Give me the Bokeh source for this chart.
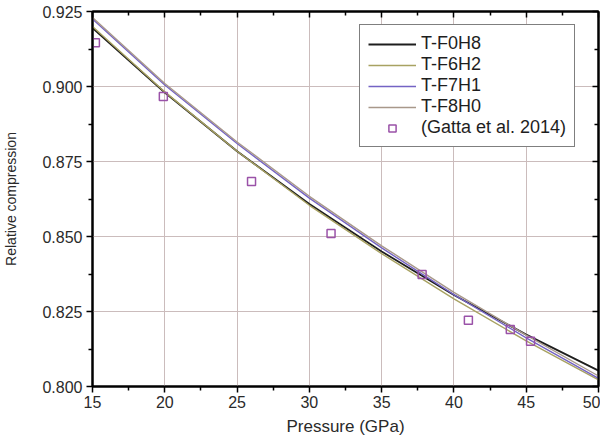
from bokeh.plotting import figure
from bokeh.models import (Range1d, LinearAxis, FixedTicker, Legend, LegendItem, Label,
                          CustomJSTickFormatter)
from bokeh.embed import file_html
from bokeh.resources import INLINE

# ---- data ----
pressure = [15, 20, 25, 30, 35, 40, 45, 50]
f0h8 = [0.9195, 0.8980, 0.8784, 0.8608, 0.8450, 0.8305, 0.8173, 0.8053]
f6h2 = [0.9200, 0.8982, 0.8784, 0.8604, 0.8443, 0.8292, 0.8152, 0.8022]
f7h1 = [0.9225, 0.9005, 0.8810, 0.8628, 0.8462, 0.8306, 0.8162, 0.8027]
f8h0 = [0.9230, 0.9010, 0.8815, 0.8634, 0.8469, 0.8314, 0.8171, 0.8035]
gatta_p = [15.2, 19.9, 26.0, 31.5, 37.8, 41.0, 43.9, 45.3]
gatta_v = [0.9146, 0.8967, 0.8683, 0.8510, 0.8373, 0.8221, 0.8190, 0.8151]
x_ticks = [15, 20, 25, 30, 35, 40, 45, 50]
y_ticks = [0.800, 0.825, 0.850, 0.875, 0.900, 0.925]
x_minor = [17.5, 22.5, 27.5, 32.5, 37.5, 42.5, 47.5]
y_minor = [0.8125, 0.8375, 0.8625, 0.8875, 0.9125]

FONT = "Liberation Sans"

p = figure(width=600, height=441, output_backend="svg", toolbar_location=None,
           x_range=Range1d(15, 50), y_range=Range1d(0.800, 0.925),
           min_border_left=90, min_border_right=2, min_border_top=11, min_border_bottom=55)
p.background_fill_color = "white"
p.border_fill_color = "white"
p.outline_line_color = "black"
p.outline_line_width = 2

# grid
p.xgrid.ticker = FixedTicker(ticks=x_ticks)
p.ygrid.ticker = FixedTicker(ticks=y_ticks)
for g in (p.xgrid, p.ygrid):
    g.grid_line_color = "#cbbcbc"
    g.grid_line_width = 1

def style_axis(ax, labels=True):
    ax.axis_line_color = "black"
    ax.axis_line_width = 2
    ax.major_tick_line_color = "black"
    ax.minor_tick_line_color = "black"
    ax.major_tick_line_width = 1.5
    ax.minor_tick_line_width = 1.5
    ax.major_label_text_font = FONT
    ax.major_label_text_font_size = "16px"
    ax.major_label_text_color = "#2a2a2a"
    ax.axis_label_text_font = FONT
    ax.axis_label_text_font_style = "normal"
    ax.axis_label_text_color = "#2a2a2a"
    if labels:
        ax.major_tick_out = 6
        ax.major_tick_in = 0
        ax.minor_tick_out = 4
        ax.minor_tick_in = 0
    else:
        ax.major_tick_out = 0
        ax.major_tick_in = 6
        ax.minor_tick_out = 0
        ax.minor_tick_in = 4
        ax.formatter = CustomJSTickFormatter(code="return '';")
        ax.major_label_standoff = 0

p.xaxis.ticker = FixedTicker(ticks=x_ticks, minor_ticks=x_minor)
p.yaxis.ticker = FixedTicker(ticks=y_ticks, minor_ticks=y_minor)
p.xaxis.axis_label = "Pressure (GPa)"
p.yaxis.axis_label = "Relative compression"
p.yaxis.formatter = CustomJSTickFormatter(code="return tick.toFixed(3);")
style_axis(p.xaxis[0])
style_axis(p.yaxis[0])
p.xaxis.axis_label_text_font_size = "17px"
p.yaxis.axis_label_text_font_size = "14px"
p.xaxis.major_label_standoff = 3
p.yaxis.major_label_standoff = 4
p.xaxis.axis_label_standoff = 6
p.yaxis.axis_label_standoff = 20

top_ax = LinearAxis(ticker=FixedTicker(ticks=x_ticks, minor_ticks=x_minor))
right_ax = LinearAxis(ticker=FixedTicker(ticks=y_ticks, minor_ticks=y_minor))
style_axis(top_ax, labels=False)
style_axis(right_ax, labels=False)
p.add_layout(top_ax, "above")
p.add_layout(right_ax, "right")

# lines
r0 = p.line(pressure, f0h8, line_color="#1e1e1e", line_width=1.8)
r1 = p.line(pressure, f6h2, line_color="#a8a262", line_width=1.4)
r2 = p.line(pressure, f7h1, line_color="#7463c4", line_width=1.4)
r3 = p.line(pressure, f8h0, line_color="#a8988a", line_width=1.4)
r4 = p.scatter(gatta_p, gatta_v, marker="square", size=8, fill_color=None,
               line_color="#9a52a8", line_width=1.5)

legend = Legend(items=[
    LegendItem(label="T-F0H8", renderers=[r0]),
    LegendItem(label="T-F6H2", renderers=[r1]),
    LegendItem(label="T-F7H1", renderers=[r2]),
    LegendItem(label="T-F8H0", renderers=[r3]),
    LegendItem(label="(Gatta et al. 2014)", renderers=[r4]),
], location=(267, 239))
legend.border_line_color = "black"
legend.border_line_width = 1
legend.background_fill_alpha = 1
legend.label_text_font = FONT
legend.label_text_font_size = "18px"
legend.label_text_color = "#1e1e1e"
legend.glyph_width = 48
legend.glyph_height = 18
legend.label_height = 18
legend.spacing = 0
legend.padding = 8
legend.margin = 0
legend.label_standoff = 5
p.add_layout(legend, "center")

p.add_layout(Label(x=-90, y=370, x_units="screen", y_units="screen", text="(d)",
                   text_font=FONT, text_font_size="18px", text_color="#1e1e1e"))

open("out.html", "w").write(file_html(p, INLINE))
